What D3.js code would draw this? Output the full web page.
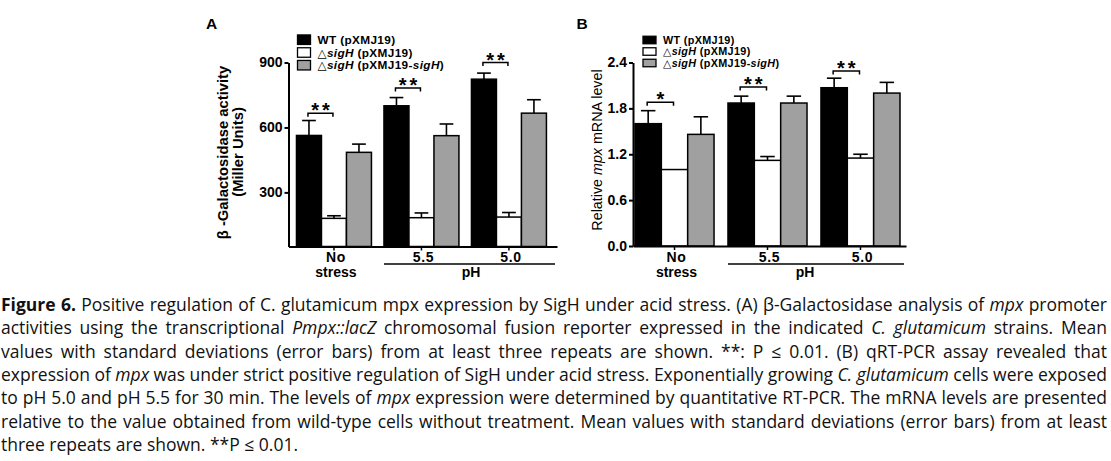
<!DOCTYPE html>
<html>
<head>
<meta charset="utf-8">
<script src="https://cdn.jsdelivr.net/npm/d3@7"></script>
<style>
  html, body { margin: 0; padding: 0; background: #fff; }
  svg { display: block; }
  text { font-family: "Liberation Sans", Arial, sans-serif; fill: #000; }
</style>
</head>
<body>
<script>
// ---------------- DATA ----------------
const groups = ["No stress", "5.5", "5.0"];
const groupLabels = [["No", "stress"], ["5.5"], ["5.0"]];
const seriesKeys = ["wt", "del", "comp"];
const seriesFill = ["#000000", "#ffffff", "#a0a0a0"];

// Panel A: beta-Galactosidase activity (Miller Units)
const galWT = [563, 700, 823];
const galWTsd = [69, 38, 28];
const galDel = [180, 183, 186];
const galDelSd = [12, 22, 21];
const galComp = [485, 562, 666];
const galCompSd = [38, 54, 62];
const galTicks = [300, 600, 900];
const galSigY = [666, 782, 900];
const galSigLabel = ["**", "**", "**"];

// Panel B: relative mpx mRNA level
const mpxWT = [1.60, 1.87, 2.07];
const mpxWTsd = [0.17, 0.09, 0.125];
const mpxDel = [1.00, 1.12, 1.15];
const mpxDelSd = [0, 0.05, 0.05];
const mpxComp = [1.46, 1.87, 2.00];
const mpxCompSd = [0.23, 0.09, 0.14];
const mpxTicks = [0, 0.6, 1.2, 1.8, 2.4];
const mpxSigY = [1.88, 2.08, 2.29];
const mpxSigLabel = ["*", "**", "**"];

const captionLines = [
  [["Figure 6.", "b"], [" Positive regulation of C. glutamicum mpx expression by SigH under acid stress. (A) β-Galactosidase analysis of ", ""], ["mpx", "i"], [" promoter", ""]],
  [["activities using the transcriptional ", ""], ["Pmpx::lacZ", "i"], [" chromosomal fusion reporter expressed in the indicated ", ""], ["C. glutamicum", "i"], [" strains. Mean", ""]],
  [["values with standard deviations (error bars) from at least three repeats are shown. **: P ≤ 0.01. (B) qRT-PCR assay revealed that", ""]],
  [["expression of ", ""], ["mpx", "i"], [" was under strict positive regulation of SigH under acid stress. Exponentially growing ", ""], ["C. glutamicum", "i"], [" cells were exposed", ""]],
  [["to pH 5.0 and pH 5.5 for 30 min. The levels of ", ""], ["mpx", "i"], [" expression were determined by quantitative RT-PCR. The mRNA levels are presented", ""]],
  [["relative to the value obtained from wild-type cells without treatment. Mean values with standard deviations (error bars) from at least", ""]],
  [["three repeats are shown. **P ≤ 0.01.", ""]]
];

// ---------------- DRAW ----------------
const W = 1111, H = 461;
const svg = d3.select("body").append("svg").attr("width", W).attr("height", H);

function drawPanel(cfg) {
  const g = svg.append("g");
  const x0 = d3.scaleBand().domain(groups).range(cfg.xRange)
    .paddingInner(cfg.padIn).paddingOuter(cfg.padOut).align(cfg.align);
  const x1 = d3.scaleBand().domain(seriesKeys).range([0, x0.bandwidth()]);
  const y = d3.scaleLinear().domain(cfg.yDomain).range(cfg.yRange);

  const rows = [];
  groups.forEach((gr, i) => {
    seriesKeys.forEach((k, j) => {
      rows.push({ group: gr, key: k, fill: seriesFill[j], v: cfg.vals[j][i], sd: cfg.sds[j][i] });
    });
  });
  const base = y(cfg.yDomain[0]);

  // error bars (upper only)
  const capW = x1.bandwidth() * 0.55;
  const eg = g.append("g").attr("stroke", "#000").attr("stroke-width", 1.6).attr("fill", "none");
  rows.filter(d => d.sd > 0).forEach(d => {
    const cx = x0(d.group) + x1(d.key) + x1.bandwidth() / 2;
    eg.append("line").attr("x1", cx).attr("x2", cx).attr("y1", y(d.v)).attr("y2", y(d.v + d.sd));
    eg.append("line").attr("x1", cx - capW / 2).attr("x2", cx + capW / 2).attr("y1", y(d.v + d.sd)).attr("y2", y(d.v + d.sd));
  });

  // bars
  g.append("g").selectAll("rect").data(rows).join("rect")
    .attr("x", d => x0(d.group) + x1(d.key))
    .attr("width", x1.bandwidth())
    .attr("y", d => y(d.v))
    .attr("height", d => base - y(d.v))
    .attr("fill", d => d.fill)
    .attr("stroke", "#000").attr("stroke-width", 1.5);

  // significance brackets
  groups.forEach((gr, i) => {
    const xa = x0(gr) + x1("wt") + x1.bandwidth() / 2 - 1;
    const xb = x0(gr) + x1("del") + x1.bandwidth() / 2 - 1;
    const yy = y(cfg.sigY[i]);
    g.append("path").attr("d", `M${xa},${yy + 3.5}V${yy}H${xb}V${yy + 3.5}`)
      .attr("fill", "none").attr("stroke", "#000").attr("stroke-width", 1.5);
    g.append("text").attr("x", (xa + xb) / 2 + 1.5).attr("y", yy + 4.2)
      .attr("text-anchor", "middle").attr("font-size", 20).attr("font-weight", "bold")
      .attr("letter-spacing", 3).text(cfg.sigLabel[i]);
  });

  // y axis
  const ya = g.append("g").attr("transform", `translate(${cfg.xRange[0]},0)`)
    .call(d3.axisLeft(y).tickValues(cfg.ticks).tickFormat(cfg.tickFmt).tickSize(4).tickSizeOuter(0).tickPadding(2));
  ya.select(".domain").attr("stroke-width", 2);
  ya.selectAll(".tick line").attr("stroke-width", 2);
  ya.selectAll(".tick text").attr("font-size", 14).attr("font-weight", "bold").attr("fill", "#000");

  // x axis
  const xa = g.append("g").attr("transform", `translate(0,${base})`)
    .call(d3.axisBottom(x0).tickFormat("").tickSize(4).tickSizeOuter(0));
  xa.select(".domain").attr("stroke-width", 2);
  xa.selectAll(".tick line").attr("stroke-width", 1.5);

  // group labels
  groups.forEach((gr, i) => {
    const cx = x0(gr) + x0.bandwidth() / 2 + 2;
    groupLabels[i].forEach((t, k) => {
      g.append("text").attr("x", cx).attr("y", 261.5 + k * 15.5)
        .attr("text-anchor", "middle").attr("font-size", 14).attr("font-weight", "bold")
        .attr("letter-spacing", t === "stress" ? 0 : 0.6)
        .text(t);
    });
  });
  // pH line + label
  const phX0 = x0(groups[1]);
  const phX1 = cfg.xRange[1] - 2;
  g.append("line").attr("x1", phX0).attr("x2", phX1).attr("y1", 264).attr("y2", 264)
    .attr("stroke", "#000").attr("stroke-width", 1.5);
  g.append("text").attr("x", cfg.phX).attr("y", 277).attr("text-anchor", "middle")
    .attr("font-size", 14).attr("font-weight", "bold").text("pH");

  // legend
  const lg = g.append("g");
  const names = [
    [["WT (pXMJ19)", "b"]],
    [["△", "n"], ["sigH", "bi"], [" (pXMJ19)", "b"]],
    [["△", "n"], ["sigH", "bi"], [" (pXMJ19-", "b"], ["sigH", "bi"], [")", "b"]]
  ];
  names.forEach((segs, j) => {
    const cy = cfg.legY[j];
    lg.append("rect").attr("x", cfg.legX).attr("y", cy - cfg.legH / 2)
      .attr("width", 13).attr("height", cfg.legH)
      .attr("fill", seriesFill[j]).attr("stroke", "#000").attr("stroke-width", 1.3);
    const t = lg.append("text").attr("x", cfg.legX + 20).attr("y", cy + cfg.legFont * 0.36)
      .attr("font-size", cfg.legFont).attr("letter-spacing", 0.35).style("white-space", "pre");
    segs.forEach(s => {
      const ts = t.append("tspan").text(s[0]);
      if (s[1].includes("b")) ts.attr("font-weight", "bold");
      if (s[1].includes("i")) ts.attr("font-style", "italic");
      if (s[1] === "n") ts.style("font-family", "'DejaVu Sans', sans-serif");
    });
  });

  // panel letter
  g.append("text").attr("x", cfg.letterX).attr("y", 29.3).attr("font-size", 15.5)
    .attr("font-weight", "bold").text(cfg.letter);

  return g;
}

const gA = drawPanel({
  xRange: [288.5, 557], padIn: 0.143, padOut: 0.106, align: 0.43,
  yDomain: [50, 900], yRange: [246.5, 62.5],
  vals: [galWT, galDel, galComp], sds: [galWTsd, galDelSd, galCompSd],
  ticks: galTicks, tickFmt: d3.format("d"),
  sigY: galSigY, sigLabel: galSigLabel,
  phX: 471, legX: 297.5, legY: [39.7, 52.5, 65.2], legH: 9.5, legFont: 11.8,
  letter: "A", letterX: 206
});
gA.append("text").attr("transform", "translate(228,152.5) rotate(-90)")
  .attr("text-anchor", "middle").attr("font-size", 14.8).attr("font-weight", "bold")
  .text("β -Galactosidase activity");
gA.append("text").attr("transform", "translate(243,152) rotate(-90)")
  .attr("text-anchor", "middle").attr("font-size", 14.8).attr("font-weight", "bold")
  .text("(Miller Units)");

const gB = drawPanel({
  xRange: [633, 906], padIn: 0.15, padOut: 0.043, align: 0.25,
  yDomain: [0, 2.4], yRange: [246, 62.5],
  vals: [mpxWT, mpxDel, mpxComp], sds: [mpxWTsd, mpxDelSd, mpxCompSd],
  ticks: mpxTicks, tickFmt: d3.format(".1f"),
  sigY: mpxSigY, sigLabel: mpxSigLabel,
  phX: 805, legX: 643, legY: [40, 51.5, 63], legH: 7.5, legFont: 10.8,
  letter: "B", letterX: 576.5
});
const bt = gB.append("text").attr("transform", "translate(602,150) rotate(-90)")
  .attr("text-anchor", "middle").attr("font-size", 14.3).style("white-space", "pre");
bt.append("tspan").text("Relative ");
bt.append("tspan").attr("font-style", "italic").text("mpx");
bt.append("tspan").text(" mRNA level");

// caption
const capFamily = "'Open Sans', 'Liberation Sans', Arial, sans-serif";
const cap = svg.append("g");
// calibrate font size so the last (unjustified) line has the reference width
const probe = cap.append("text").attr("font-size", 16).style("font-family", capFamily)
  .style("white-space", "pre").text(captionLines[6].map(s => s[0]).join(""));
let capSize = 16 * 298 / probe.node().getComputedTextLength();
capSize = Math.max(14, Math.min(17.5, capSize));
probe.remove();

captionLines.forEach((segs, i) => {
  const t = cap.append("text").attr("x", 1).attr("y", 310.7 + i * 23.4)
    .attr("font-size", capSize).style("font-family", capFamily)
    .style("white-space", "pre").style("fill", "#111");
  let full = "";
  segs.forEach(s => {
    const ts = t.append("tspan").text(s[0]);
    if (s[1] === "b") ts.attr("font-weight", "bold");
    if (s[1] === "i") ts.attr("font-style", "italic");
    full += s[0];
  });
  if (i < captionLines.length - 1) {
    const natural = t.node().getComputedTextLength();
    const spaces = (full.match(/ /g) || []).length;
    const ws = (1106 - natural) / spaces;
    t.style("word-spacing", ws + "px");
  }
});
</script>
</body>
</html>
